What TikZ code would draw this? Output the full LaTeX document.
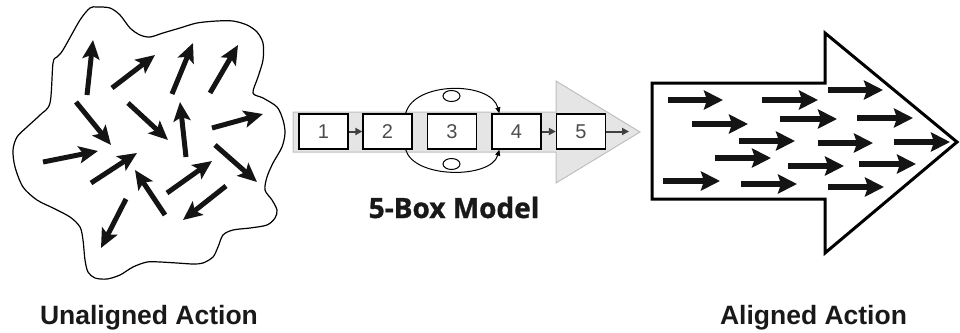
\documentclass[tikz,border=0pt]{standalone}
\usepackage{fontspec}
\setmainfont{Liberation Sans}
\newfontfamily\modelfont[FakeBold=1]{Open Sans}
\usetikzlibrary{arrows.meta}
\tikzset{
  chaos/.style={line width=5pt, -{Stealth[length=19pt,width=17pt,inset=4pt]}, black!92},
  flow/.style={line width=5.5pt, -{Stealth[length=19pt,width=19pt,inset=3pt]}, black!92},
  mbox/.style={draw=black, line width=1.3pt, fill=white, minimum width=49pt, minimum height=35pt, inner sep=0pt, text=black!70, font=\fontsize{20}{20}\selectfont},
  link/.style={draw=black!75, line width=2pt, -{Triangle[length=7pt,width=7pt]}},
  loop/.style={draw=black, line width=1pt, -{Triangle[length=6pt,width=5pt]}},
  caption/.style={font=\bfseries\fontsize{26.5}{26.5}\selectfont, anchor=base, text=black!90},
}
\begin{document}
\begin{tikzpicture}[x=1pt,y=-1pt]
\useasboundingbox (0,0) rectangle (960,332);
% ---------- unaligned blob ----------
\draw[line width=1.2pt] plot[smooth cycle, tension=0.5] coordinates {
(50,103) (53,63) (57,57) (63,50) (80,20) (90,8) (97,7) (110,8) (120,15) (130,28) (140,35) (150,37)
(163,33) (180,28) (197,23) (217,21) (233,21) (247,25) (257,32) (263,43) (263,60) (258,77) (253,93)
(263,98) (277,107) (283,120) (285,133) (282,147) (273,163) (267,177) (265,190) (272,200) (277,210)
(275,218) (267,225) (250,228) (233,230) (223,235) (218,247) (213,257) (203,263) (193,264) (177,263)
(160,262) (147,262) (133,267) (120,275) (107,279) (95,278) (88,272) (85,260) (83,240) (80,227)
(70,217) (53,208) (37,200) (23,187) (15,167) (13,150) (17,137) (27,127) (40,115)};
\draw[chaos] (87,95) -- (93,40);
\draw[chaos] (112,88) -- (155,55);
\draw[chaos] (172,94) -- (193,43);
\draw[chaos] (210,93) -- (238,45);
\draw[chaos] (76,102) -- (111,145);
\draw[chaos] (128,103) -- (168,140);
\draw[chaos] (186,157) -- (180,102);
\draw[chaos] (212,128) -- (263,114);
\draw[chaos] (43,162) -- (98,151);
\draw[chaos] (91,183) -- (137,153);
\draw[chaos] (215,145) -- (257,182);
\draw[chaos] (165,215) -- (135,170);
\draw[chaos] (167,193) -- (212,161);
\draw[chaos] (126,199) -- (101,248);
\draw[chaos] (226,186) -- (183,220);
\node[caption] (lblU) at (149,324) {Unaligned Action};
% ---------- 5-box model ----------
\draw[fill=black!10, draw=black!25, line width=1pt]
  (293,112) -- (556,112) -- (556,81) -- (640,132) -- (556,183) -- (556,152) -- (293,152) -- cycle;
\node[mbox] (b1) at (323.5,131.5) {1};
\node[mbox] (b2) at (387.5,131.5) {2};
\node[mbox] (b3) at (452,131.5) {3};
\node[mbox] (b4) at (516.5,131.5) {4};
\node[mbox] (b5) at (581,131.5) {5};
\coordinate (out) at (629,131.5);
\draw[link] (b1) -- (b2);
\draw[link] (b4) -- (b5);
\draw[link] (b5) -- (out);
\draw[loop] ([xshift=-7pt]b2.north east) .. controls (414,81) and (491,81) .. ([xshift=8pt]b4.north west);
\draw[loop] ([xshift=-7pt]b2.south east) .. controls (414,179) and (491,179) .. ([xshift=8pt]b4.south west);
\draw[line width=1pt, fill=white] (451.5,96) ellipse [x radius=8.5pt, y radius=5.5pt];
\draw[line width=1pt, fill=white] (451.5,164) ellipse [x radius=8.5pt, y radius=5.5pt];
\node[font=\modelfont\bfseries\fontsize{28}{28}\selectfont, anchor=base, text=black!90] (lblM) at (454,218) {5-Box Model};
% ---------- aligned arrow ----------
\draw[line width=3pt, line join=miter, fill=white]
  (652,83) -- (825,83) -- (825,33) -- (957,142) -- (825,253) -- (825,199) -- (652,199) -- cycle;
\draw[flow] (668,100) -- (723,100);
\draw[flow] (762,100) -- (818,100);
\draw[flow] (828,90) -- (883,90);
\draw[flow] (692,124) -- (748,124);
\draw[flow] (780,119) -- (837,119);
\draw[flow] (857,118) -- (913,118);
\draw[flow] (739,141) -- (795,141);
\draw[flow] (818,143) -- (873,143);
\draw[flow] (894,142) -- (950,142);
\draw[flow] (715,158) -- (771,158);
\draw[flow] (788,166) -- (844,166);
\draw[flow] (859,164) -- (916,164);
\draw[flow] (663,181) -- (720,181);
\draw[flow] (741,184) -- (797,184);
\draw[flow] (828,187) -- (884,187);
\node[caption] (lblA) at (813.5,324) {Aligned Action};
\end{tikzpicture}
\end{document}
